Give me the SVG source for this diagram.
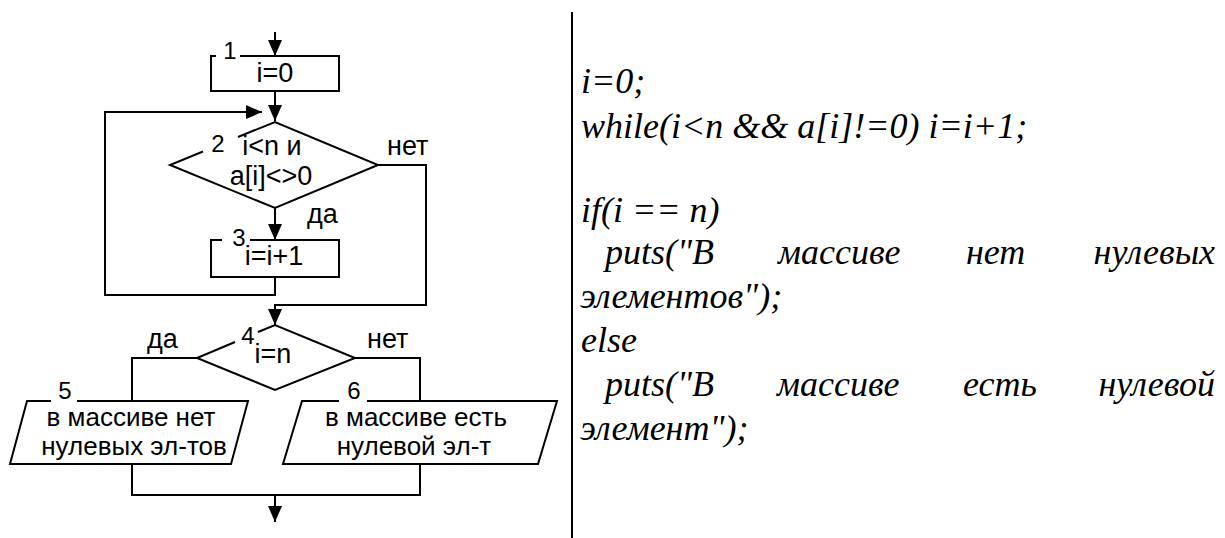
<svg xmlns="http://www.w3.org/2000/svg" width="1225" height="538" viewBox="0 0 1225 538">
<style>
.ln{fill:none;stroke:#000;stroke-width:2;stroke-linejoin:miter}
.t{font-family:"Liberation Sans",Arial,sans-serif;font-size:27px;fill:#000}
.p{font-size:26px}
.m{text-anchor:middle}
.n{font-family:"Liberation Sans",Arial,sans-serif;font-size:24px;fill:#000;text-anchor:middle}
.c{font-family:"Liberation Serif","Times New Roman",serif;font-style:italic;font-size:36px;fill:#000}
</style>
<defs>
<marker id="ah" markerUnits="userSpaceOnUse" markerWidth="16" markerHeight="14" refX="16" refY="7" orient="auto">
<path d="M0,0 L16,7 L0,14 z" fill="#000"/>
</marker>
</defs>
<rect width="1225" height="538" fill="#fff"/>
<g id="connectors" class="ln">
<path d="M275,32 V56" marker-end="url(#ah)"/>
<path d="M275,91 V121" marker-end="url(#ah)"/>
<path d="M275,208 V240" marker-end="url(#ah)"/>
<path d="M275,277 V295 H105 V112 H262" marker-end="url(#ah)"/>
<path d="M378,165 H426 V305 H275 V325" marker-end="url(#ah)"/>
<path d="M197,358 H132 V401"/>
<path d="M355,358 H420 V401"/>
<path d="M132,464 V495 H420 V464"/>
<path d="M275,495 V522" marker-end="url(#ah)"/>
</g>
<g id="node1">
<path class="ln" d="M216,56 H211 V91 H339 V56 H240"/>
<text class="n" x="230" y="59">1</text>
<text class="t m" x="275" y="82">i=0</text>
</g>
<g id="node2">
<path class="ln" d="M203,151.5 L170,165 L275,208 L378,165 L275,122 L238,137"/>
<text class="n" x="218" y="152">2</text>
<text class="t m" x="272" y="155">i&lt;n и</text>
<text class="t m" x="271" y="185">a[i]&lt;&gt;0</text>
<text class="t" x="387" y="155">нет</text>
<text class="t" x="307" y="223">да</text>
</g>
<g id="node3">
<path class="ln" d="M222,240 H211 V277 H339 V240 H250"/>
<text class="n" x="239" y="246">3</text>
<text class="t m" x="274" y="265">i=i+1</text>
</g>
<g id="node4">
<path class="ln" d="M235,342 L197,358 L275,390 L355,358 L275,325 L258,332"/>
<text class="n" x="248" y="344">4</text>
<text class="t m" x="273" y="363">i=n</text>
<text class="t" x="147" y="348">да</text>
<text class="t" x="367" y="348">нет</text>
</g>
<g id="node5">
<path class="ln" d="M51,401 H27 L10,464 H231 L248,401 H77"/>
<text class="n" x="65" y="399">5</text>
<text class="t p m" x="131" y="426">в массиве нет</text>
<text class="t p m" x="134" y="455">нулевых эл-тов</text>
</g>
<g id="node6">
<path class="ln" d="M339,401 H302 L283,464 H538 L557,401 H367"/>
<text class="n" x="354" y="399">6</text>
<text class="t p m" x="416" y="426">в массиве есть</text>
<text class="t p m" x="414" y="455">нулевой эл-т</text>
</g>
<line x1="572" y1="12" x2="572" y2="538" stroke="#000" stroke-width="2"/>
<g id="code">
<text class="c" x="581" y="93">i=0;</text>
<text class="c" x="581" y="138">while(i&lt;n &amp;&amp; a[i]!=0) i=i+1;</text>
<text class="c" x="581" y="222">if(i == n)</text>
<text class="c" x="605" y="264">puts("В</text>
<text class="c" x="778" y="264">массиве</text>
<text class="c" x="966" y="264">нет</text>
<text class="c" x="1215" y="264" text-anchor="end">нулевых</text>
<text class="c" x="580" y="308">элементов");</text>
<text class="c" x="581" y="352">else</text>
<text class="c" x="605" y="396">puts("В</text>
<text class="c" x="777" y="396">массиве</text>
<text class="c" x="963" y="396">есть</text>
<text class="c" x="1215" y="396" text-anchor="end">нулевой</text>
<text class="c" x="580" y="440">элемент");</text>
</g>
</svg>
